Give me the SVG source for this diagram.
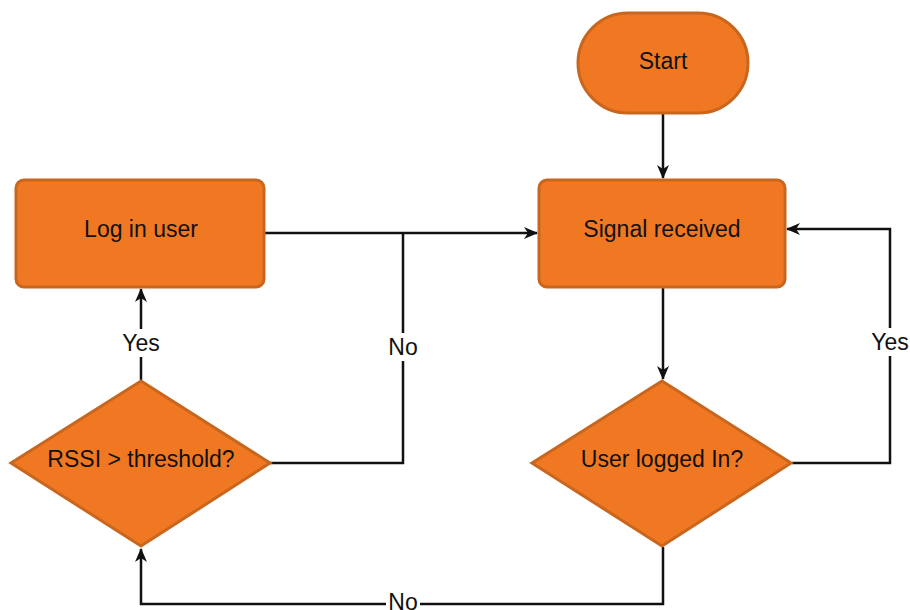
<svg xmlns="http://www.w3.org/2000/svg" width="910" height="610" viewBox="0 0 910 610">
<defs>
<style>
.n{fill:#F17822;stroke:#C9661E;stroke-width:3}
.t{font-family:"Liberation Sans",Arial,sans-serif;font-size:23px;fill:#111;text-anchor:middle}
.e{fill:none;stroke:#111;stroke-width:2.5}
.l{font-family:"Liberation Sans",Arial,sans-serif;font-size:23px;fill:#111;text-anchor:middle}
.bg{fill:#fff}
</style>
<marker id="a" viewBox="0 0 14 14" refX="13" refY="7" markerWidth="14" markerHeight="14" markerUnits="userSpaceOnUse" orient="auto">
<path d="M0,1 L14,7 L0,13 L4,7 Z" fill="#111"/>
</marker>
</defs>
<rect width="910" height="610" fill="#fff"/>
<g id="connectors">
<path class="e" d="M663,114 V178" marker-end="url(#a)"/>
<path class="e" d="M663,288 V379" marker-end="url(#a)"/>
<path class="e" d="M792,463 H890 V229 H787" marker-end="url(#a)"/>
<path class="e" d="M663,547 V604 H141 V549" marker-end="url(#a)"/>
<path class="e" d="M141,380 V289" marker-end="url(#a)"/>
<path class="e" d="M265,233 H537" marker-end="url(#a)"/>
<path class="e" d="M270,463 H403 V233"/>
<rect class="bg" x="119" y="329" width="44" height="28"/>
<text class="l" x="141" y="351">Yes</text>
<rect class="bg" x="385" y="333" width="36" height="28"/>
<text class="l" x="403" y="355">No</text>
<rect class="bg" x="868" y="328" width="44" height="28"/>
<text class="l" x="890" y="350">Yes</text>
<rect class="bg" x="386" y="592" width="34" height="18"/>
<text class="l" x="403" y="610">No</text>
</g>
<g id="start">
<rect class="n" x="578" y="13" width="170" height="100" rx="50"/>
<text class="t" x="663" y="69">Start</text>
</g>
<g id="signal">
<rect class="n" x="539" y="180" width="246" height="107" rx="8"/>
<text class="t" x="662" y="237">Signal received</text>
</g>
<g id="login">
<rect class="n" x="16" y="180" width="248" height="107" rx="8"/>
<text class="t" x="141" y="237">Log in user</text>
</g>
<g id="rssi">
<polygon class="n" points="141,381 270,463 141,546 11,463"/>
<text class="t" x="141" y="467">RSSI &gt; threshold?</text>
</g>
<g id="logged">
<polygon class="n" points="662,381 791,463 662,546 532,463"/>
<text class="t" x="662" y="467">User logged In?</text>
</g>
</svg>
